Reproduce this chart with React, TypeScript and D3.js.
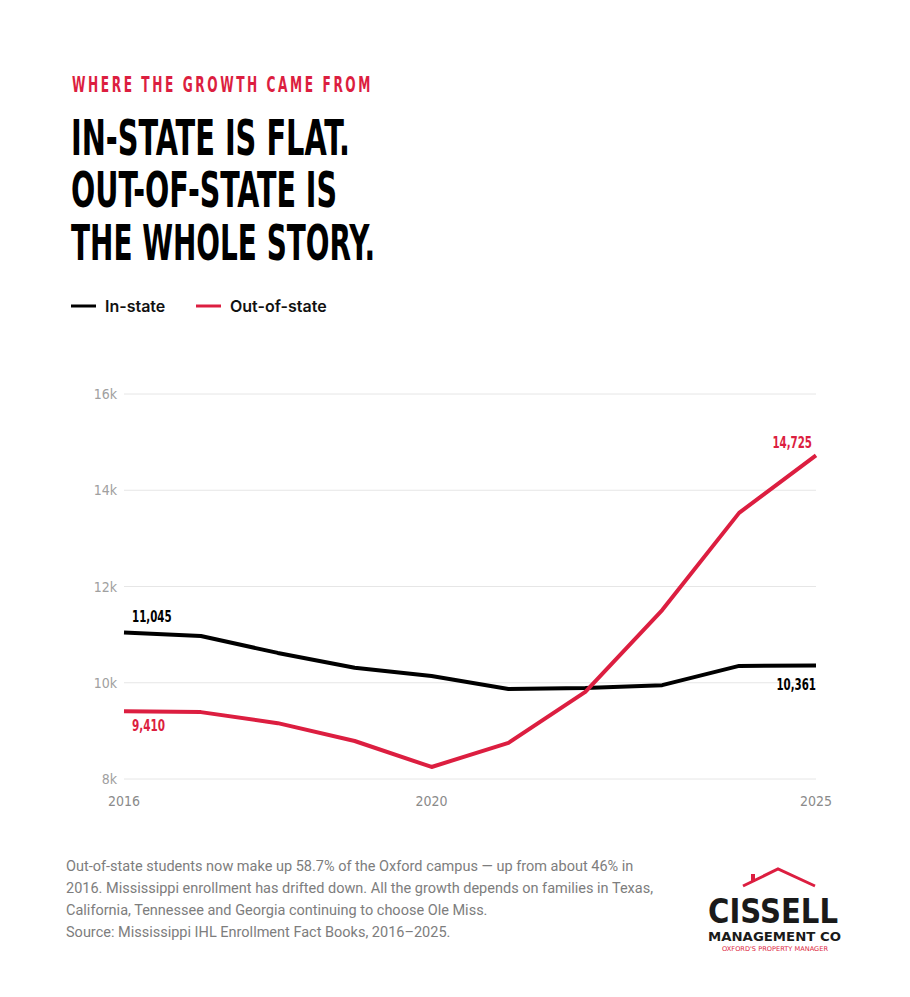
import React, { useEffect, useRef } from 'react';
import * as d3 from 'd3';

const years = [2016, 2017, 2018, 2019, 2020, 2021, 2022, 2023, 2024, 2025];
const inState = [11045, 10970, 10620, 10310, 10140, 9870, 9890, 9950, 10350, 10361];
const outOfState = [9410, 9390, 9160, 8790, 8250, 8750, 9810, 11510, 13530, 14725];
const yTicks = [8000, 10000, 12000, 14000, 16000];
const xTicks = [2016, 2020, 2025];

const RED = '#dc1e40';
const NARROW = "'Liberation Sans Narrow', 'DejaVu Sans Condensed', sans-serif";

const App = () => {
  const ref = useRef<SVGSVGElement>(null);

  useEffect(() => {
    const svg = d3.select(ref.current);
    svg.selectAll('*').remove();

    // header
    svg
      .append('text')
      .attr('x', 72)
      .attr('y', 92)
      .attr('textLength', 301)
      .attr('lengthAdjust', 'spacingAndGlyphs')
      .attr('fill', RED)
      .style('font-family', NARROW)
      .style('font-size', '21px')
      .style('font-weight', 700)
      .style('letter-spacing', '4px')
      .text('WHERE THE GROWTH CAME FROM');

    const titleLines = [
      { t: 'IN-STATE IS FLAT.', w: 279, y: 155 },
      { t: 'OUT-OF-STATE IS', w: 266, y: 207 },
      { t: 'THE WHOLE STORY.', w: 304, y: 260 },
    ];
    titleLines.forEach(l => {
      svg
        .append('text')
        .attr('x', 71)
        .attr('y', l.y)
        .attr('textLength', l.w)
        .attr('lengthAdjust', 'spacingAndGlyphs')
        .attr('fill', '#000')
        .style('font-family', NARROW)
        .style('font-size', '49px')
        .style('font-weight', 700)
        .text(l.t);
    });

    // legend
    const legend = [
      { label: 'In-state', color: '#000', x: 71 },
      { label: 'Out-of-state', color: RED, x: 196 },
    ];
    legend.forEach(l => {
      svg
        .append('line')
        .attr('x1', l.x)
        .attr('x2', l.x + 25)
        .attr('y1', 306)
        .attr('y2', 306)
        .attr('stroke', l.color)
        .attr('stroke-width', 3);
      svg
        .append('text')
        .attr('x', l.x + 34)
        .attr('y', 311.5)
        .attr('fill', '#111')
        .style('font-family', 'Inter, sans-serif')
        .style('font-size', '16px')
        .style('font-weight', 600)
        .text(l.label);
    });

    // chart
    const x = d3.scaleLinear().domain([2016, 2025]).range([124, 816]);
    const y = d3.scaleLinear().domain([8000, 16000]).range([779, 394]);

    const grid = svg.append('g');
    yTicks.forEach(t => {
      grid
        .append('line')
        .attr('x1', 124)
        .attr('x2', 816)
        .attr('y1', y(t))
        .attr('y2', y(t))
        .attr('stroke', '#e6e6e6')
        .attr('stroke-width', 1);
      grid
        .append('text')
        .attr('x', 117)
        .attr('y', y(t) + 5)
        .attr('text-anchor', 'end')
        .attr('fill', '#a0a0a0')
        .style('font-family', NARROW)
        .style('font-size', '14px')
        .text(`${t / 1000}k`);
    });

    xTicks.forEach(t => {
      svg
        .append('text')
        .attr('x', x(t))
        .attr('y', 806)
        .attr('text-anchor', 'middle')
        .attr('fill', '#8a8a8a')
        .style('font-family', NARROW)
        .style('font-size', '14px')
        .text(String(t));
    });

    const line = d3
      .line<number>()
      .x((_, i) => x(years[i]))
      .y(d => y(d));

    svg
      .append('path')
      .datum(inState)
      .attr('fill', 'none')
      .attr('stroke', '#000')
      .attr('stroke-width', 4)
      .attr('stroke-linejoin', 'round')
      .attr('d', line);

    svg
      .append('path')
      .datum(outOfState)
      .attr('fill', 'none')
      .attr('stroke', RED)
      .attr('stroke-width', 4)
      .attr('stroke-linejoin', 'round')
      .attr('d', line);

    const fmt = d3.format(',');
    const last = years.length - 1;
    const labels = [
      { v: inState[0], xx: x(years[0]) + 8, yy: y(inState[0]) - 10, anchor: 'start', color: '#000' },
      { v: outOfState[0], xx: x(years[0]) + 8, yy: y(outOfState[0]) + 20, anchor: 'start', color: RED },
      { v: outOfState[last], xx: x(years[last]) - 4, yy: y(outOfState[last]) - 7, anchor: 'end', color: RED },
      { v: inState[last], xx: x(years[last]), yy: y(inState[last]) + 25, anchor: 'end', color: '#000' },
    ];
    labels.forEach(l => {
      const s = fmt(l.v);
      svg
        .append('text')
        .attr('x', l.xx)
        .attr('y', l.yy)
        .attr('text-anchor', l.anchor)
        .attr('textLength', s.length * 6.6)
        .attr('lengthAdjust', 'spacingAndGlyphs')
        .attr('fill', l.color)
        .style('font-family', NARROW)
        .style('font-size', '16px')
        .style('font-weight', 700)
        .text(s);
    });

    // footnote
    const notes = [
      'Out-of-state students now make up 58.7% of the Oxford campus \u2014 up from about 46% in',
      '2016. Mississippi enrollment has drifted down. All the growth depends on families in Texas,',
      'California, Tennessee and Georgia continuing to choose Ole Miss.',
      'Source: Mississippi IHL Enrollment Fact Books, 2016\u20132025.',
    ];
    notes.forEach((n, i) => {
      svg
        .append('text')
        .attr('x', 66)
        .attr('y', 871 + i * 22)
        .attr('fill', '#7d7d7d')
        .style('font-family', 'Roboto, sans-serif')
        .style('font-size', '14.5px')
        .text(n);
    });

    // logo
    const logo = svg.append('g');
    logo
      .append('path')
      .attr('d', 'M743,886 L778,869 L815,886')
      .attr('fill', 'none')
      .attr('stroke', RED)
      .attr('stroke-width', 3);
    logo
      .append('rect')
      .attr('x', 751)
      .attr('y', 874)
      .attr('width', 4)
      .attr('height', 8)
      .attr('fill', RED);
    logo
      .append('text')
      .attr('x', 708)
      .attr('y', 923)
      .attr('textLength', 130)
      .attr('lengthAdjust', 'spacingAndGlyphs')
      .attr('fill', '#1a1a1a')
      .style('font-family', "'DejaVu Sans', sans-serif")
      .style('font-size', '33px')
      .style('font-weight', 700)
      .text('CISSELL');
    logo
      .append('text')
      .attr('x', 708)
      .attr('y', 941)
      .attr('textLength', 133)
      .attr('lengthAdjust', 'spacingAndGlyphs')
      .attr('fill', '#1a1a1a')
      .style('font-family', "'DejaVu Sans', sans-serif")
      .style('font-size', '12px')
      .style('font-weight', 700)
      .text('MANAGEMENT CO');
    logo
      .append('text')
      .attr('x', 722)
      .attr('y', 951)
      .attr('textLength', 106)
      .attr('lengthAdjust', 'spacingAndGlyphs')
      .attr('fill', RED)
      .style('font-family', "'DejaVu Sans', sans-serif")
      .style('font-size', '6.5px')
      .text("OXFORD'S PROPERTY MANAGER");
  }, []);

  return (
    <svg
      ref={ref}
      width={910}
      height={997}
      style={{ position: 'absolute', left: 0, top: 0, background: '#fff' }}
    />
  );
};

export default App;
